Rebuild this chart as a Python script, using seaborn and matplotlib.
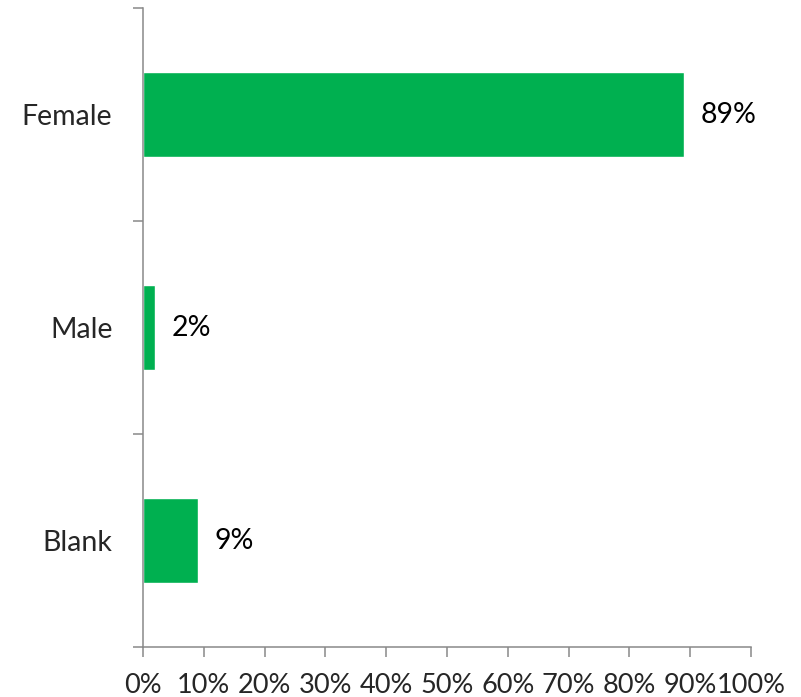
import matplotlib
matplotlib.use('Agg')
import matplotlib.pyplot as plt
import pandas as pd
import seaborn as sns
from matplotlib.ticker import FixedLocator, PercentFormatter

# Data
categories = ['Female', 'Male', 'Blank']
shares = [89, 2, 9]
x_ticks = list(range(0, 101, 10))

df = pd.DataFrame({'category': categories, 'share': shares})

sns.set_style('white')
plt.rcParams['font.family'] = ['Lato', 'DejaVu Sans']

fig = plt.figure(figsize=(8.01, 6.97), dpi=100)
ax = fig.add_axes([0.1785, 0.0717, 0.759, 0.9168])

sns.barplot(data=df, x='share', y='category', orient='h', color='#00B050',
            saturation=1, width=0.4, ax=ax)

# value labels
for cont in ax.containers:
    ax.bar_label(cont, labels=[f'{v}%' for v in shares], padding=12,
                 fontsize=20.5, color='black')

ax.set_xlim(0, 100)
ax.set_ylim(len(categories) - 0.5, -0.5)
ax.set_xticks(x_ticks)
ax.xaxis.set_major_formatter(PercentFormatter(decimals=0))
ax.set_xlabel('')
ax.set_ylabel('')

# category ticks at band boundaries
ax.yaxis.set_minor_locator(FixedLocator([i - 0.5 for i in range(len(categories) + 1)]))
ax.tick_params(axis='y', which='major', length=0, pad=22, labelsize=20.5)
ax.tick_params(axis='y', which='minor', length=7, width=1.1, color='#898989', left=True)
ax.tick_params(axis='x', which='major', length=7, width=1.1, color='#898989',
               bottom=True, pad=12, labelsize=19.5)

for side in ['top', 'right']:
    ax.spines[side].set_visible(False)
for side in ['left', 'bottom']:
    ax.spines[side].set_color('#898989')
    ax.spines[side].set_linewidth(1.1)

fig.savefig('out.png', dpi=100)
